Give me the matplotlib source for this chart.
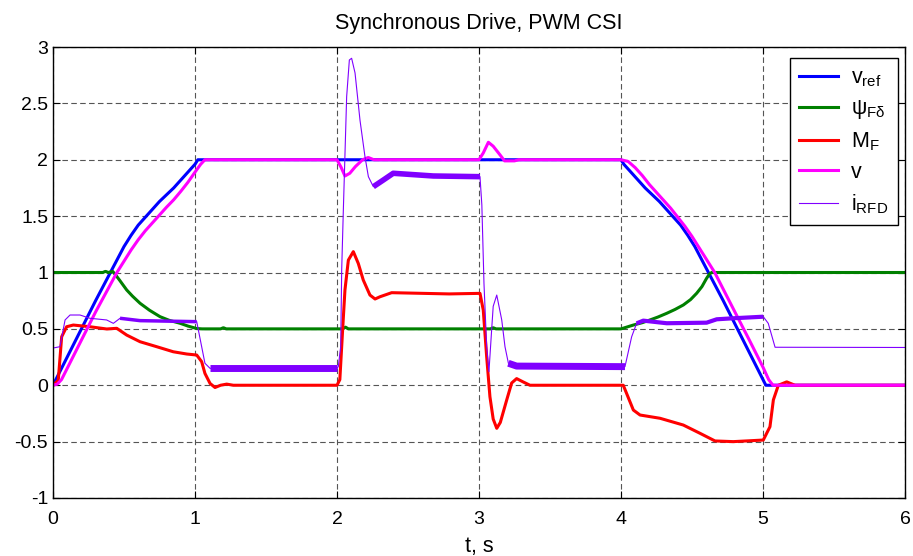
import numpy as np
import matplotlib
matplotlib.use("Agg")
import matplotlib.pyplot as plt

plt.rcParams['font.family'] = 'Liberation Sans'
plt.rcParams['mathtext.fontset'] = 'custom'
plt.rcParams['mathtext.rm'] = 'Liberation Sans'
plt.rcParams['mathtext.it'] = 'Liberation Sans'
plt.rcParams['axes.unicode_minus'] = False

### Data
# v_ref (reference speed)
t_vref = [0, 0.1, 0.2, 0.3, 0.45, 0.5, 0.55, 0.6, 0.65, 0.7, 0.75, 0.8, 0.85, 0.9, 0.95, 1.0, 1.02,
          4.0, 4.02, 4.07, 4.12, 4.17, 4.22, 4.27, 4.32, 4.37, 4.42, 4.47, 4.52, 4.57,
          4.72, 4.82, 4.92, 5.02, 6.0]
vref = [0, 0.25, 0.5, 0.75, 1.11, 1.23, 1.33, 1.42, 1.49, 1.56, 1.63, 1.69, 1.75, 1.82, 1.89, 1.96, 2.0,
        2.0, 1.96, 1.89, 1.82, 1.75, 1.69, 1.63, 1.56, 1.49, 1.42, 1.33, 1.23, 1.11,
        0.75, 0.5, 0.25, 0.0, 0.0]

# psi_F delta (flux)
t_psi = [0, 0.35, 0.37, 0.39, 0.42, 0.44, 0.47, 0.519, 0.56, 0.613, 0.68, 0.754, 0.82, 0.894,
         0.95, 1.012, 1.05, 1.18, 1.2, 1.22, 2.04, 2.06, 2.08, 3.08, 3.1, 3.12, 4.0, 4.087,
         4.15, 4.204, 4.26, 4.322, 4.38, 4.439, 4.49, 4.533, 4.57, 4.603, 4.625, 4.639, 6.0]
psi = [1.0, 1.0, 1.01, 1.0, 1.01, 0.98, 0.93, 0.845, 0.79, 0.727, 0.665, 0.608, 0.575, 0.55,
       0.525, 0.503, 0.5, 0.5, 0.51, 0.5, 0.5, 0.515, 0.5, 0.5, 0.51, 0.5, 0.5, 0.534,
       0.555, 0.579, 0.605, 0.638, 0.672, 0.712, 0.76, 0.816, 0.875, 0.949, 0.99, 1.0, 1.0]

# M_F (torque)
t_mf = [0, 0.037, 0.061, 0.096, 0.143, 0.26, 0.378, 0.449, 0.519, 0.613, 0.73, 0.847, 0.942,
        1.012, 1.047, 1.07, 1.106, 1.141, 1.18, 1.223, 1.27, 2.0, 2.02, 2.04, 2.056, 2.08,
        2.115, 2.15, 2.185, 2.232, 2.268, 2.303, 2.385, 2.79, 3.007, 3.03, 3.054, 3.077,
        3.1, 3.125, 3.15, 3.195, 3.23, 3.265, 3.31, 3.359, 4.016, 4.087, 4.134, 4.275,
        4.439, 4.556, 4.662, 4.791, 5.002, 5.049, 5.073, 5.108, 5.167, 5.225, 6.0]
mf = [0, 0.044, 0.43, 0.519, 0.534, 0.519, 0.499, 0.505, 0.445, 0.386, 0.342, 0.297, 0.277,
      0.268, 0.209, 0.105, 0.016, -0.02, 0.0, 0.01, 0.0, 0.0, 0.05, 0.5, 0.845, 1.11,
      1.185, 1.08, 0.933, 0.80, 0.765, 0.785, 0.821, 0.81, 0.815, 0.667, 0.253, -0.102,
      -0.3, -0.382, -0.33, -0.131, 0.02, 0.059, 0.03, 0.0, 0.0, -0.22, -0.264, -0.293,
      -0.353, -0.426, -0.494, -0.5, -0.486, -0.368, -0.13, 0.0, 0.03, 0.0, 0.0]

# v (actual speed)
t_v = [0, 0.03, 0.06, 0.1, 0.2, 0.3, 0.45, 0.5, 0.55, 0.6, 0.65, 0.7, 0.75, 0.8, 0.85, 0.9,
       0.95, 1.0, 1.04, 1.07, 2.0, 2.03, 2.056, 2.09, 2.13, 2.18, 2.22, 2.26, 3.0, 3.03,
       3.066, 3.1, 3.15, 3.18, 3.25, 3.28, 4.0, 4.05, 4.1, 4.15, 4.2, 4.25, 4.3, 4.35, 4.4,
       4.45, 4.5, 4.55, 4.6, 4.66, 4.8, 4.9, 5.0, 5.04, 5.07, 6.0]
v = [0, 0.01, 0.05, 0.15, 0.4, 0.65, 1.0, 1.1, 1.2, 1.29, 1.37, 1.44, 1.51, 1.58, 1.645, 1.72,
     1.8, 1.89, 1.96, 2.0, 2.0, 1.93, 1.856, 1.88, 1.94, 2.0, 2.02, 2.0, 2.0, 2.06,
     2.155, 2.12, 2.04, 1.99, 1.99, 2.0, 2.0, 1.985, 1.93, 1.86, 1.78, 1.71, 1.64, 1.57, 1.49,
     1.41, 1.32, 1.22, 1.12, 1.0, 0.655, 0.41, 0.16, 0.05, 0.0, 0.0]

# i_RFD (rotor current)
t_i = [0, 0.049, 0.085, 0.12, 0.19, 0.26, 0.378, 0.425, 0.472, 0.613, 1.012, 1.03, 1.07,
       1.106, 2.0, 2.009, 2.026, 2.033, 2.044, 2.068, 2.087, 2.103, 2.127, 2.162, 2.197,
       2.221, 2.256, 2.326, 2.396, 2.678, 3.007, 3.02, 3.035, 3.054, 3.07, 3.089, 3.1,
       3.125, 3.16, 3.183, 3.207, 3.265, 4.028, 4.075, 4.11, 4.157, 4.322, 4.603, 4.674,
       4.79, 5.002, 5.037, 5.085, 6.0]
i_rfd = [0.33, 0.342, 0.579, 0.623, 0.623, 0.594, 0.579, 0.549, 0.594, 0.573, 0.564, 0.45,
         0.195, 0.15, 0.15, 0.165, 0.342, 1.02, 1.525, 2.56, 2.885, 2.9, 2.77, 2.35, 2.027,
         1.85, 1.761, 1.82, 1.88, 1.856, 1.85, 1.6, 0.904, 0.342, 0.12, 0.49, 0.7,
         0.8, 0.58, 0.342, 0.195, 0.17, 0.165, 0.43, 0.549, 0.573, 0.55, 0.555, 0.585,
         0.594, 0.608, 0.549, 0.337, 0.335]

# intervals where the current trace is a noisy band (start, end, band width in pt)
noisy_i = [(0.472, 1.012, 2.5), (1.106, 2.0, 5), (2.256, 3.007, 4), (3.207, 4.028, 5), (4.11, 5.002, 3)]

### Plot
fig = plt.figure(figsize=(9.13, 5.56), dpi=100)
ax = fig.add_axes([53/913, 58/556, 852/913, 451/556])

ax.plot(t_vref, vref, color='#0000ff', lw=2.2, label=r'v$_{\rm ref}$')
ax.plot(t_psi, psi, color='#008000', lw=2.2, label=r'ψ$_{\rm Fδ}$')
ax.plot(t_mf, mf, color='#ff0000', lw=2.2, label=r'M$_{\rm F}$')
ax.plot(t_v, v, color='#ff00ff', lw=2.2, label='v')
purple = '#8000ff'
ax.plot(t_i, i_rfd, color=purple, lw=0.8, label=r'i$_{\rm RFD}$')
ti_arr = np.array(t_i)
i_arr = np.array(i_rfd)
for t0, t1, w in noisy_i:
    sel = (ti_arr >= t0) & (ti_arr <= t1)
    ax.plot(ti_arr[sel], i_arr[sel], color=purple, lw=w, solid_capstyle='butt')

ax.set_xlim(0, 6)
ax.set_ylim(-1, 3)
ax.set_xticks(np.arange(0, 7, 1))
ax.set_yticks(np.arange(-1, 3.01, 0.5))
ax.set_yticklabels(['-1', '-0.5', '0', '0.5', '1', '1.5', '2', '2.5', '3'])
ax.tick_params(direction='in', length=5, top=True, right=True, labelsize=14, width=0.8)
ax.tick_params(axis='x', pad=9)
ax.grid(True, color='#555555', linestyle=(0, (5, 3)), lw=0.8)
for s in ax.spines.values():
    s.set_linewidth(1.0)

ax.set_title('Synchronous Drive, PWM CSI', fontsize=15.5, pad=13)
ax.set_xlabel('t, s', fontsize=15.5, labelpad=6)

leg = ax.legend(loc='upper right', bbox_to_anchor=(898/913, 498/556), bbox_transform=fig.transFigure,
                fontsize=15.5, fancybox=False, edgecolor='black', framealpha=1, borderaxespad=0,
                handlelength=1.8, handletextpad=0.6, labelspacing=0.42, borderpad=0.45)
leg.get_frame().set_linewidth(1.0)

fig.savefig('out.png', dpi=100)
